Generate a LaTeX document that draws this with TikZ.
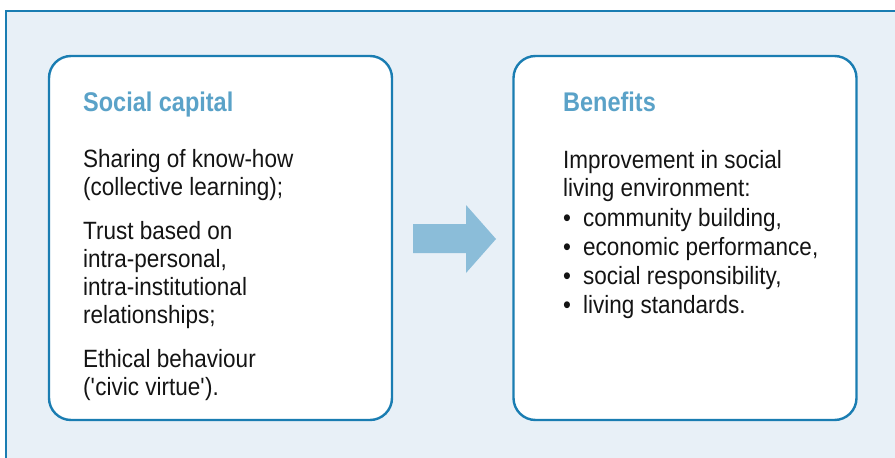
\documentclass[tikz,border=0pt]{standalone}
\usepackage{fontspec}
\setmainfont{Liberation Sans}[FakeStretch=0.9]
\newfontfamily\titlefont{Liberation Sans}[FakeStretch=0.87]
\definecolor{bgblue}{HTML}{E8F0F7}
\definecolor{lineblue}{HTML}{1A7DB2}
\definecolor{titleblue}{HTML}{5AA2C8}
\definecolor{arrowblue}{HTML}{8BBDD9}
\definecolor{textgrey}{HTML}{141414}
\tikzset{
  panel/.style={draw=lineblue, line width=2.4pt, fill=white, rounded corners=22pt,
    minimum width=343pt, minimum height=364pt, inner sep=0pt},
  heading/.style={anchor=base west, inner sep=0pt, text=titleblue,
    font=\titlefont\bfseries\fontsize{27}{30}\selectfont},
  body/.style={anchor=base west, inner sep=0pt, text=textgrey,
    font=\fontsize{25}{28}\selectfont},
  bulletmark/.style={anchor=base west, inner sep=0pt, text=textgrey,
    font=\fontsize{25}{28}\selectfont}
}
\begin{document}
\begin{tikzpicture}[x=1pt,y=-1pt]
\useasboundingbox (0,0) rectangle (895,458);
\fill[white] (0,0) rectangle (895,458);
\fill[bgblue] (6,11) rectangle (897,460);
\draw[lineblue, line width=2pt] (6,460) -- (6,11) -- (897,11);

\node[panel] (left) at (220.5,238) {};
\node[panel] (right) at (685,238) {};

\fill[arrowblue] (413,224) -- (466,224) -- (466,205) -- (496,239)
  -- (466,273) -- (466,253) -- (413,253) -- cycle;

% left column
\node[heading] (h1) at (83,111) {Social capital};
\node[body] (l1) at (83,167) {Sharing of know-how};
\node[body] (l2) at (83,195) {(collective learning);};
\node[body] (l3) at (83,239) {Trust based on};
\node[body] (l4) at (83,267) {intra-personal,};
\node[body] (l5) at (83,295) {intra-institutional};
\node[body] (l6) at (83,323) {relationships;};
\node[body] (l7) at (83,367) {Ethical behaviour};
\node[body] (l8) at (83,395) {(\textquotesingle civic virtue\textquotesingle).};

% right column
\node[heading] (h2) at (563,111) {Benefits};
\node[body] (r1) at (563,168) {Improvement in social};
\node[body] (r2) at (563,196) {living environment:};
\node[bulletmark] (b1) at (563,226) {•};
\node[body] (r3) at (583,226) {community building,};
\node[bulletmark] (b2) at (563,255) {•};
\node[body] (r4) at (583,255) {economic performance,};
\node[bulletmark] (b3) at (563,284) {•};
\node[body] (r5) at (583,284) {social responsibility,};
\node[bulletmark] (b4) at (563,313) {•};
\node[body] (r6) at (583,313) {living standards.};
\end{tikzpicture}
\end{document}
